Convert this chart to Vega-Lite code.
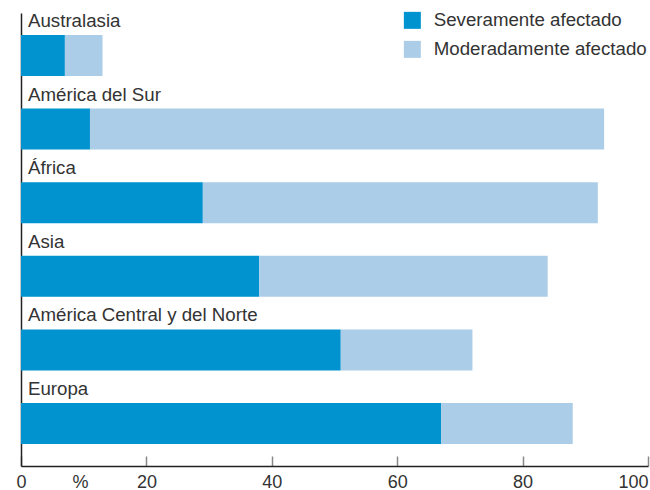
{
  "$schema": "https://vega.github.io/schema/vega-lite/v6.json",
  "autosize": "none",
  "width": 627,
  "height": 453,
  "padding": {"left": 21, "top": 13, "right": 2, "bottom": 24},
  "background": "white",
  "config": {
    "font": "Liberation Sans",
    "view": {"stroke": null}
  },
  "datasets": {
    "bars": [
      {"region": "Australasia", "series": "Severamente afectado", "value": 7},
      {"region": "Australasia", "series": "Moderadamente afectado", "value": 6},
      {"region": "América del Sur", "series": "Severamente afectado", "value": 11},
      {"region": "América del Sur", "series": "Moderadamente afectado", "value": 82},
      {"region": "África", "series": "Severamente afectado", "value": 29},
      {"region": "África", "series": "Moderadamente afectado", "value": 63},
      {"region": "Asia", "series": "Severamente afectado", "value": 38},
      {"region": "Asia", "series": "Moderadamente afectado", "value": 46},
      {"region": "América Central y del Norte", "series": "Severamente afectado", "value": 51},
      {"region": "América Central y del Norte", "series": "Moderadamente afectado", "value": 21},
      {"region": "Europa", "series": "Severamente afectado", "value": 67},
      {"region": "Europa", "series": "Moderadamente afectado", "value": 21}
    ],
    "labels": [
      {"region": "Australasia"},
      {"region": "América del Sur"},
      {"region": "África"},
      {"region": "Asia"},
      {"region": "América Central y del Norte"},
      {"region": "Europa"}
    ]
  },
  "layer": [
    {
      "data": {"name": "bars"},
      "mark": {"type": "bar"},
      "encoding": {
        "y": {
          "field": "region", "type": "nominal", "sort": null,
          "scale": {"paddingInner": 0.443, "paddingOuter": 0.299},
          "axis": {"labels": false, "ticks": false, "title": null, "domainColor": "#222222", "domainWidth": 1.5}
        },
        "x": {
          "field": "value", "type": "quantitative", "stack": "zero",
          "scale": {"domain": [0, 100], "nice": false},
          "axis": {
            "values": [0, 20, 40, 60, 80, 100],
            "grid": false,
            "title": "%",
            "titleX": 59,
            "titleY": 21,
            "titleBaseline": "alphabetic",
            "titleAlign": "center",
            "titleFontSize": 18,
            "titleFontWeight": "normal",
            "titleColor": "#333333",
            "labelFontSize": 18,
            "labelColor": "#333333",
            "labelFlush": false,
            "labelAlign": {"condition": {"test": "datum.value == 100", "value": "right"}, "value": "center"},
            "labelPadding": 17,
            "tickSize": -10,
            "tickColor": "#888888",
            "tickWidth": 1.5,
            "domainColor": "#222222",
            "domainWidth": 1.5
          }
        },
        "color": {
          "field": "series", "type": "nominal",
          "scale": {"domain": ["Severamente afectado", "Moderadamente afectado"], "range": ["#0093CF", "#ABCDE8"]},
          "legend": {
            "title": null,
            "orient": "none",
            "legendX": 382,
            "legendY": -2,
            "symbolType": "square",
            "symbolSize": 289,
            "symbolStrokeWidth": 0,
            "symbolOpacity": 1,
            "labelFontSize": 18.7,
            "labelColor": "#333333",
            "labelOffset": 12,
            "rowPadding": 9,
            "labelLimit": 400
          }
        },
        "order": {"field": "series", "sort": "descending"}
      }
    },
    {
      "data": {"name": "labels"},
      "mark": {"type": "text", "align": "left", "baseline": "alphabetic", "dx": 7, "dy": -8, "fontSize": 18.7, "color": "#333333"},
      "encoding": {
        "y": {"field": "region", "type": "nominal", "sort": null, "bandPosition": 0},
        "x": {"datum": 0, "type": "quantitative"},
        "text": {"field": "region"}
      }
    }
  ]
}
